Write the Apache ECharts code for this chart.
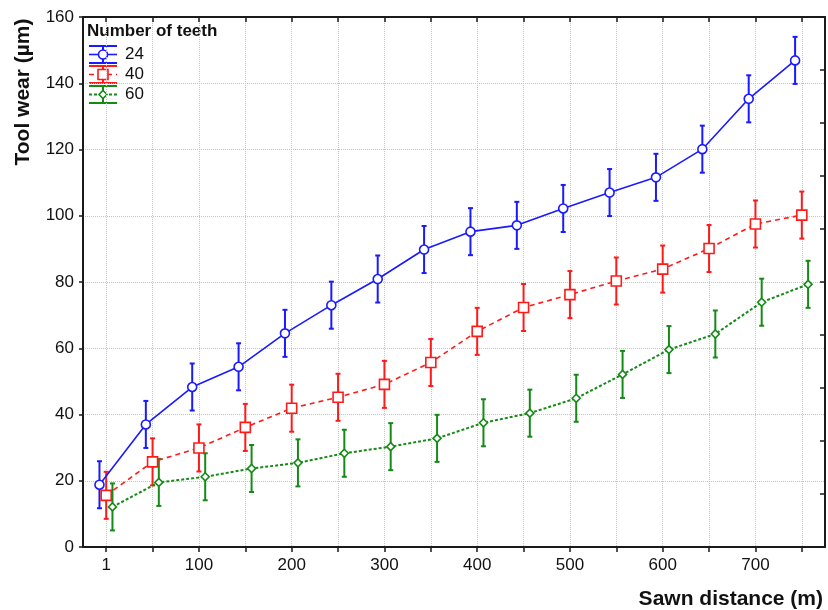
<!DOCTYPE html>
<html>
<head>
<meta charset="utf-8">
<script src="https://cdn.jsdelivr.net/npm/echarts@6/dist/echarts.min.js"></script>
<style>html,body{margin:0;padding:0;background:#fff}#chart{width:828px;height:610px}</style>
</head>
<body>
<div id="chart"></div>
<script>
// ---- data ----
const categories = ['1','50','100','150','200','250','300','350','400','450','500','550','600','650','700','750'];
const seriesNames = ['24','40','60'];
const wear24 = [18.8,37.0,48.3,54.4,64.5,73.0,80.9,89.8,95.2,97.1,102.2,107.0,111.6,120.1,135.3,146.9];
const wear40 = [15.6,25.7,29.9,36.1,41.9,45.2,49.1,55.7,65.1,72.3,76.2,80.3,83.9,90.1,97.5,100.2];
const wear60 = [12.1,19.5,21.2,23.7,25.4,28.3,30.3,32.8,37.5,40.4,44.9,52.1,59.6,64.3,73.9,79.3];
const err24 = [7.1,7.1,7.1,7.1,7.1,7.1,7.1,7.1,7.1,7.1,7.1,7.1,7.1,7.1,7.1,7.1];
const err40 = [7.1,7.1,7.1,7.1,7.1,7.1,7.1,7.1,7.1,7.1,7.1,7.1,7.1,7.1,7.1,7.1];
const err60 = [7.1,7.1,7.1,7.1,7.1,7.1,7.1,7.1,7.1,7.1,7.1,7.1,7.1,7.1,7.1,7.1];
const yTicks = [0,20,40,60,80,100,120,140,160];

// ---- styles ----
const FONT = '"Liberation Sans", Arial, sans-serif';
const styles = [
  {name: seriesNames[0], values: wear24, errs: err24, color: '#1a1aff', symbol: 'circle', size: 9, dash: 'solid', lw: 1.6, off: -0.145},
  {name: seriesNames[1], values: wear40, errs: err40, color: '#ff1a1a', symbol: 'rect', size: 10, dash: [5, 4], lw: 1.6, off: 0.0},
  {name: seriesNames[2], values: wear60, errs: err60, color: '#168a16', symbol: 'diamond', size: 8, dash: [3, 2], lw: 2, off: 0.135}
];

const chart = echarts.init(document.getElementById('chart'), null, {renderer: 'canvas'});

const series = [];
styles.forEach(function (s, k) {
  const pts = s.values.map(function (v, i) { return [i + s.off, v, s.errs[i]]; });
  series.push({
    type: 'custom',
    name: s.name + ' err',
    xAxisIndex: 1, yAxisIndex: 0,
    z: 2,
    silent: true,
    encode: {x: 0, y: 1},
    data: pts,
    renderItem: function (params, api) {
      const x = api.value(0), v = api.value(1), e = api.value(2);
      const t = api.coord([x, v + e]);
      const b = api.coord([x, v - e]);
      const hw = 2.5;
      const st = {stroke: s.color, lineWidth: 2};
      return {type: 'group', children: [
        {type: 'line', shape: {x1: t[0], y1: t[1], x2: b[0], y2: b[1]}, style: st},
        {type: 'line', shape: {x1: t[0] - hw, y1: t[1], x2: t[0] + hw, y2: t[1]}, style: st},
        {type: 'line', shape: {x1: b[0] - hw, y1: b[1], x2: b[0] + hw, y2: b[1]}, style: st}
      ]};
    }
  });
  series.push({
    type: 'line',
    name: s.name,
    xAxisIndex: 1, yAxisIndex: 0,
    z: 3,
    data: pts.map(function (p) { return [p[0], p[1]]; }),
    symbol: s.symbol,
    symbolSize: s.size,
    showAllSymbol: true,
    lineStyle: {color: s.color, width: s.lw, type: s.dash},
    itemStyle: {color: '#fff', borderColor: s.color, borderWidth: 1.6},
    emphasis: {disabled: true},
    animation: false
  });
});

// legend drawn as graphic
const lg = [];
lg.push({type: 'text', left: 87, top: 23, style: {text: 'Number of teeth', font: 'bold 17px ' + FONT, fill: '#111'}});
styles.forEach(function (s, k) {
  const cy = 54.5 + k * 20;
  const x0 = 89, x1 = 117, xc = 103, hc = 8.5;
  const st = {stroke: s.color, lineWidth: 2};
  lg.push({type: 'line', shape: {x1: x0, y1: cy - hc, x2: x1, y2: cy - hc}, style: st});
  lg.push({type: 'line', shape: {x1: x0, y1: cy + hc, x2: x1, y2: cy + hc}, style: st});
  lg.push({type: 'line', shape: {x1: xc, y1: cy - hc, x2: xc, y2: cy + hc}, style: st});
  lg.push({type: 'line', shape: {x1: x0, y1: cy, x2: x1, y2: cy}, style: {stroke: s.color, lineWidth: s.lw, lineDash: s.dash === 'solid' ? null : s.dash}});
  const sym = {fill: '#fff', stroke: s.color, lineWidth: 1.6};
  if (s.symbol === 'circle') lg.push({type: 'circle', shape: {cx: xc, cy: cy, r: 4.5}, style: sym});
  else if (s.symbol === 'rect') lg.push({type: 'rect', shape: {x: xc - 5, y: cy - 5, width: 10, height: 10}, style: sym});
  else lg.push({type: 'polygon', shape: {points: [[xc, cy - 4], [xc + 4, cy], [xc, cy + 4], [xc - 4, cy]]}, style: sym});
  lg.push({type: 'text', x: 125, y: cy, style: {text: s.name, font: '17px ' + FONT, fill: '#111', verticalAlign: 'middle'}});
});
lg.push({type: 'text', x: 23, y: 92, rotation: Math.PI / 2, style: {text: 'Tool wear (µm)', font: 'bold 21px ' + FONT, fill: '#111', align: 'center', verticalAlign: 'middle'}});
lg.push({type: 'text', x: 823, y: 599, style: {text: 'Sawn distance (m)', font: 'bold 21px ' + FONT, fill: '#111', align: 'right', verticalAlign: 'middle'}});

const gridLine = {show: true, lineStyle: {color: '#c4c4c4', width: 1, type: [1, 1]}};
const axisLine = {show: true, onZero: false, lineStyle: {color: '#1a1a1a', width: 2}};

chart.setOption({
  animation: false,
  backgroundColor: '#fff',
  grid: {left: 83, right: 3, top: 17, bottom: 63, containLabel: false},
  xAxis: [
    {
      type: 'category', data: categories, position: 'bottom', boundaryGap: true,
      axisLine: axisLine,
      axisTick: {show: true, alignWithLabel: true, interval: 0, length: 5, inside: false, lineStyle: {color: '#1a1a1a', width: 1.5}},
      axisLabel: {interval: 1, margin: 10, color: '#111', fontSize: 17, fontFamily: FONT},
      splitLine: {show: true, interval: 0, alignWithLabel: true, lineStyle: gridLine.lineStyle}
    },
    {type: 'value', min: -0.5, max: 15.5, show: false, position: 'bottom', splitLine: {show: false}},
    {
      type: 'category', data: categories, position: 'top', boundaryGap: true,
      axisLine: axisLine,
      axisTick: {show: true, alignWithLabel: true, interval: 0, length: 5, inside: true, lineStyle: {color: '#1a1a1a', width: 1.5}},
      axisLabel: {show: false}, splitLine: {show: false}
    }
  ],
  yAxis: [
    {
      type: 'value', min: yTicks[0], max: yTicks[yTicks.length - 1], interval: 20, position: 'left',
      axisLine: axisLine,
      axisTick: {show: true, length: 4, inside: false, lineStyle: {color: '#1a1a1a', width: 1.5}},
      axisLabel: {margin: 9, color: '#111', fontSize: 17, fontFamily: FONT},
      splitLine: gridLine
    },
    {
      type: 'value', min: 0, max: 10, interval: 1, position: 'right',
      axisLine: axisLine,
      axisTick: {show: true, length: 5, inside: true, lineStyle: {color: '#1a1a1a', width: 1.5}},
      axisLabel: {show: false}, splitLine: {show: false}
    }
  ],
  graphic: lg,
  series: series
});
</script>
</body>
</html>
